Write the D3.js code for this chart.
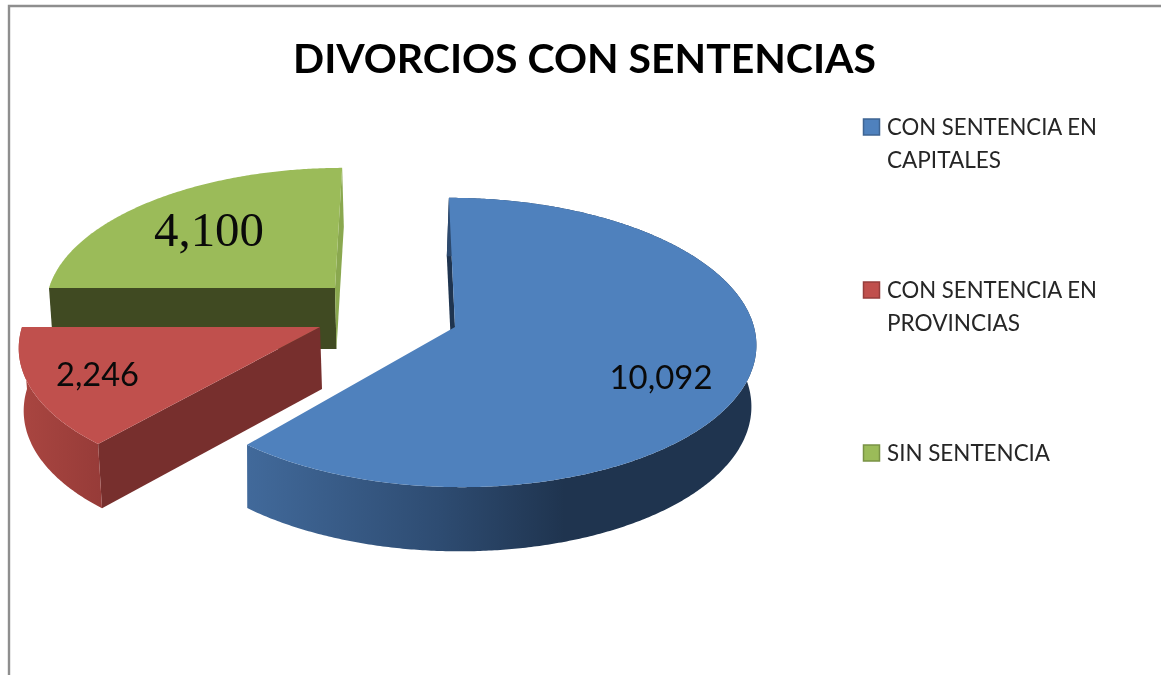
<!DOCTYPE html>
<html><head><meta charset="utf-8">
<script src="https://cdn.jsdelivr.net/npm/d3@7/dist/d3.min.js"></script>
<style>html,body{margin:0;padding:0;background:#fff}svg{display:block;filter:blur(0.45px)}</style>
</head><body><svg id="c" width="1161" height="675"></svg>
<script>
const categories = ["CON SENTENCIA EN CAPITALES","CON SENTENCIA EN PROVINCIAS","SIN SENTENCIA"];
const legendLines = [["CON SENTENCIA EN","CAPITALES"],["CON SENTENCIA EN","PROVINCIAS"],["SIN SENTENCIA"]];
const values = [10092,2246,4100];
const labels = ["10,092","2,246","4,100"];
const title = "DIVORCIOS CON SENTENCIAS";
const colors = ["#4F81BD","#C0504D","#9BBB59"];

const deg = Math.PI/180;
const persp = 0.107;
// per-slice solid: apex on top face, radii, shear from perspective, visible radial walls
const solids = [
 {ax:455,ay:327,R:299,K:143,shear:0.04,depth:61,rz:0.99,lx:-2,outer:true,
  wall:[["#1F344F",0]], grad:[[0,"#41699A"],[0.37,"#2E4C72"],[0.62,"#1F344F"],[1,"#1F344F"]], gx:[250,757],
  label:{x:661,y:389,font:"Lato",size:33.5,w:103}},
 {ax:320,ay:327,R:298,K:142,shear:-0.085,depth:62,rz:0.99,lx:2,outer:true,
  wall:[["#772F2D",0]], grad:[[0,"#AA4641"],[1,"#963B38"]], gx:[18,104],
  label:{x:97.5,y:386,font:"Lato",size:33.5,w:83}},
 {ax:335,ay:288,R:286,K:133,shear:-0.067,depth:61,rz:0.99,lx:1.5,outer:false,
  wall:[["#404A22",0],["#8AA84F",1]], grad:[[0,"#404A22"],[1,"#404A22"]], gx:[49,342],
  label:{x:209,y:246,font:"Liberation Serif",size:49,w:110}}
];

const pie = d3.pie().sort(null).value(d=>d).startAngle(-0.2*deg).endAngle(359.8*deg);
const arcs = pie(values);
const svg = d3.select("#c");
const defs = svg.append("defs");
const line = d3.line().x(d=>d[0]).y(d=>d[1]);

function project(s,theta,r,level){
  const u=Math.sin(theta)*r, v=-Math.cos(theta)*r, w=1/(1-persp*v);
  const Rz=level?s.R*s.rz:s.R, Kz=level?s.K*1.02:s.K;
  const dy=Kz*v*w, dx=Rz*u*w+s.shear*dy;
  return [s.ax+dx+(level?s.lx:0), s.ay+dy+(level?s.depth:0)];
}
function rim(s,a0,a1,level){
  const n=Math.max(2,Math.ceil(Math.abs(a1-a0)/(0.5*deg)));
  return d3.range(n+1).map(i=>project(s,a0+(a1-a0)*i/n,1,level));
}

// frame
svg.append("path").attr("d","M9,675V6H1161").attr("fill","none").attr("stroke","#8e8e8e").attr("stroke-width",2.4);

// back to front: green, red, blue
[2,1,0].forEach(i=>{
  const a=arcs[i], s=solids[i];
  const g=svg.append("g");
  const id="wall"+i;
  const lg=defs.append("linearGradient").attr("id",id).attr("gradientUnits","userSpaceOnUse")
    .attr("x1",s.gx[0]).attr("x2",s.gx[1]).attr("y1",0).attr("y2",0);
  s.grad.forEach(st=>lg.append("stop").attr("offset",st[0]).attr("stop-color",st[1]));
  s.wall.forEach(([col,which])=>{
    const th=which?a.endAngle:a.startAngle;
    const pts=[project(s,th,0,0),project(s,th,1,0),project(s,th,1,1),project(s,th,0,1)];
    g.append("path").attr("d",line(pts)+"Z").attr("fill",col);
  });
  const top=rim(s,a.startAngle,a.endAngle,0), bot=rim(s,a.endAngle,a.startAngle,1);
  if(s.outer) g.append("path").attr("d",line(top.concat(bot))+"Z").attr("fill",`url(#${id})`);
  const face=[project(s,a.startAngle,0,0)].concat(top);
  g.append("path").attr("d",line(face)+"Z").attr("fill",colors[i]);
});

arcs.forEach((a,i)=>{
  const l=solids[i].label;
  svg.append("text").attr("x",l.x).attr("y",l.y).attr("text-anchor","middle")
    .attr("font-family",l.font).attr("font-size",l.size).attr("fill","#0a0a0a")
    .attr("textLength",l.w).attr("lengthAdjust","spacingAndGlyphs").text(labels[i]);
});

svg.append("text").attr("x",584.5).attr("y",73).attr("text-anchor","middle")
  .attr("font-family","Lato").attr("font-weight",700).attr("font-size",41).attr("fill","#000")
  .attr("textLength",583).attr("lengthAdjust","spacingAndGlyphs").text(title);

const legendY=[127,290,453];
const lineW={"CON SENTENCIA EN":210,"CAPITALES":114,"PROVINCIAS":133,"SIN SENTENCIA":163};
categories.forEach((c,i)=>{
  svg.append("rect").attr("x",863.5).attr("y",legendY[i]-8).attr("width",16).attr("height",16)
    .attr("fill",colors[i]).attr("stroke",d3.color(colors[i]).darker(0.7)).attr("stroke-width",1.5);
  legendLines[i].forEach((t,j)=>{
    svg.append("text").attr("x",887).attr("y",legendY[i]+8+j*32.5)
      .attr("font-family","Lato").attr("font-size",23).attr("fill","#262626")
      .attr("textLength",lineW[t]).attr("lengthAdjust","spacingAndGlyphs").text(t);
  });
});
</script></body></html>
